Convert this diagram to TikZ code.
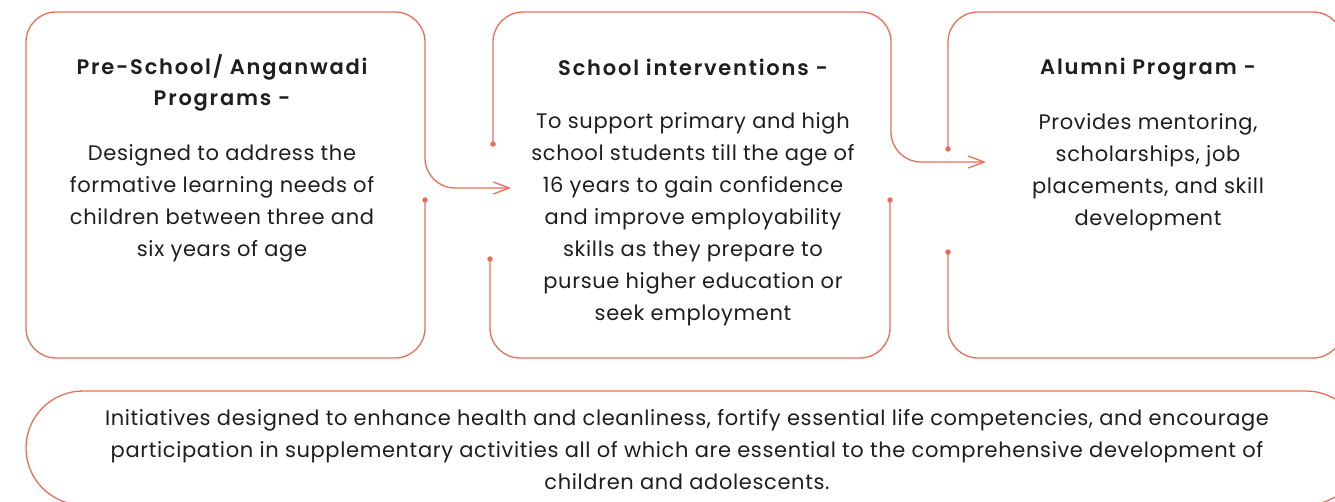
\documentclass[tikz,border=0pt]{standalone}
\usepackage{fontspec}
\setmainfont{Poppins}[LetterSpace=3]
\newfontfamily\titlefont{Poppins SemiBold}[LetterSpace=8.5]
\usetikzlibrary{arrows.meta}
\definecolor{salmon}{RGB}{232,110,90}
\definecolor{ink}{RGB}{30,30,30}
\tikzset{
  frame/.style={draw=salmon, line width=1.3pt, rounded corners=30pt},
  arrowframe/.style={frame, -{Straight Barb[length=16pt,width=12pt,line width=1.3pt]}},
  dotmark/.style={circle, fill=salmon, inner sep=0pt, minimum size=5.5pt},
  title/.style={text=ink, align=center, font=\titlefont\fontsize{21}{31}\selectfont},
  body/.style={text=ink, align=center, font=\fontsize{21}{32}\selectfont},
}
\begin{document}
\begin{tikzpicture}[x=1pt,y=-1pt]
\useasboundingbox (0,0) rectangle (1335,502);
% named coordinates
\coordinate (a1) at (425,200);
\coordinate (a2) at (425,358);
\coordinate (a3) at (26,358);
\coordinate (a4) at (26,12);
\coordinate (a5) at (425,12);
\coordinate (a6) at (425,188);
\coordinate (t1) at (511,188);
\coordinate (b1) at (493,144);
\coordinate (b2) at (493,12);
\coordinate (b3) at (891,12);
\coordinate (b4) at (891,162);
\coordinate (t2) at (986,162);
\coordinate (c1) at (890,200);
\coordinate (c2) at (890,358);
\coordinate (c3) at (490,358);
\coordinate (c4) at (490,259);
\coordinate (d1) at (948,149);
\coordinate (d2) at (948,12);
\coordinate (d3) at (1343,12);
\coordinate (d4) at (1343,358);
\coordinate (d5) at (948,358);
\coordinate (d6) at (948,252);
% box 1 + arrow
\draw[arrowframe] (a1) -- (a2) -- (a3) -- (a4) -- (a5) -- (a6) -- (t1);
% box 2
\draw[arrowframe] (b1) -- (b2) -- (b3) -- (b4) -- (t2);
\draw[frame] (c1) -- (c2) -- (c3) -- (c4);
% box 3
\draw[frame] (d1) -- (d2) -- (d3) -- (d4) -- (d5) -- (d6);
% dots
\foreach \p in {a1,b1,c1,c4,d1,d6} \node[dotmark] at (\p) {};
% bottom box
\draw[draw=salmon, line width=1.3pt, rounded corners=57pt] (26,391) rectangle (1363,505);
% texts
\node[title] (h1) at (222,82.5) {Pre-School/ Anganwadi\\Programs -};
\node[body] (p1) at (222,203.5) {Designed to address the\\formative learning needs of\\children between three and\\six years of age};
\node[title] (h2) at (693,67) {School interventions -};
\node[body] (p2) at (693,219) {To support primary and high\\school students till the age of\\16 years to gain confidence\\and improve employability\\skills as they prepare to\\pursue higher education or\\seek employment};
\node[title] (h3) at (1148,69.5) {Alumni Program -};
\node[body] (p3) at (1148,172) {Provides mentoring,\\scholarships, job\\placements, and skill\\development};
\node[body] (p4) at (687,450) {Initiatives designed to enhance health and cleanliness, fortify essential life competencies, and encourage\\participation in supplementary activities all of which are essential to the comprehensive development of\\children and adolescents.};
\end{tikzpicture}
\end{document}
